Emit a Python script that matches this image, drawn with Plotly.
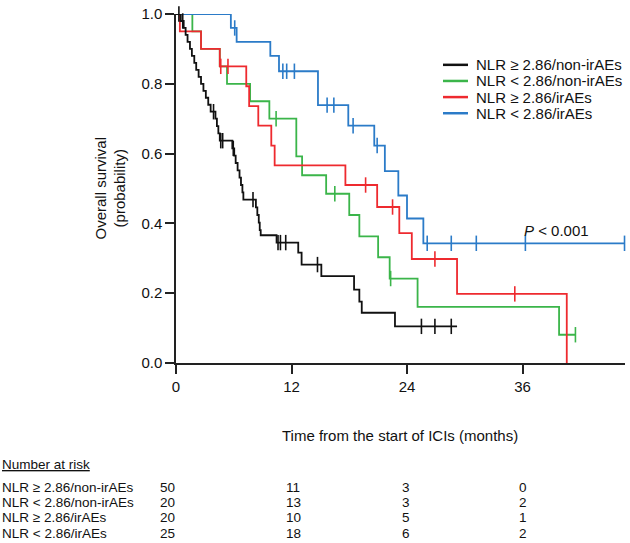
import numpy as np
import plotly.graph_objects as go

# ---------------- data ----------------
group_labels = ["NLR \u2265 2.86/non-irAEs", "NLR < 2.86/non-irAEs",
                "NLR \u2265 2.86/irAEs", "NLR < 2.86/irAEs"]
group_colors = ["#111111", "#3bb54a", "#ee2a2f", "#2b7bc8"]

# NLR >= 2.86 / non-irAEs (black)
black_t = [0, 0.5, 0.8, 1.0, 1.2, 1.45, 1.65, 1.9, 2.1, 2.35,
           2.6, 2.85, 3.1, 3.35, 3.6, 4.1, 4.25, 4.4, 4.55, 5.85,
           6.05, 6.2, 6.4, 6.6, 6.75, 6.9, 7.0, 8.3, 8.45, 8.6,
           8.7, 8.8, 10.45, 12.7, 13.05, 15.1, 18.5, 19.05, 19.3, 22.75,
           29.2]
black_s = [1.0, 0.98, 0.96, 0.94, 0.92, 0.90, 0.88, 0.86, 0.84, 0.82,
           0.80, 0.78, 0.76, 0.74, 0.72, 0.70, 0.679, 0.658, 0.637, 0.615,
           0.594, 0.573, 0.552, 0.531, 0.510, 0.489, 0.468, 0.446, 0.424, 0.402,
           0.381, 0.366, 0.345, 0.316, 0.282, 0.249, 0.210, 0.176, 0.144, 0.105,
           0.105]
black_cens = [0.3, 0.7, 3.9, 4.65, 4.85, 5.95, 8.0, 10.6, 10.85, 11.4,
              14.7, 25.5, 26.9, 28.6]

# NLR < 2.86 / non-irAEs (green)
green_t = [0, 1.7, 2.6, 4.55, 5.3, 7.7, 9.7, 12.5, 13.1, 15.6,
           18.0, 19.05, 21.0, 22.2, 25.1, 39.8, 41.5]
green_s = [1.0, 0.95, 0.90, 0.85, 0.80, 0.75, 0.70, 0.592, 0.538, 0.485,
           0.424, 0.363, 0.303, 0.242, 0.161, 0.081, 0.081]
green_cens = [10.4, 16.5, 22.3, 41.5]

# NLR >= 2.86 / irAEs (red)
red_t = [0, 0.4, 2.6, 4.55, 7.3, 7.6, 8.55, 9.9, 10.25, 17.6,
         20.9, 23.2, 24.5, 29.2, 40.6]
red_s = [1.0, 0.95, 0.90, 0.85, 0.793, 0.736, 0.68, 0.623, 0.566, 0.51,
         0.447, 0.372, 0.298, 0.198, 0.0]
red_cens = [4.65, 5.4, 19.7, 22.5, 26.9, 35.2]

# NLR < 2.86 / irAEs (blue)
blue_t = [0, 5.7, 6.3, 9.8, 10.7, 14.75, 17.9, 20.6, 21.7, 23.1,
          24.0, 25.7, 46.6]
blue_s = [1.0, 0.96, 0.92, 0.88, 0.836, 0.739, 0.68, 0.623, 0.55, 0.48,
          0.414, 0.343, 0.343]
blue_cens = [6.1, 11.1, 11.5, 12.3, 15.7, 16.4, 18.4, 20.9, 26.1, 28.6,
             31.2, 36.3, 46.6]

# number at risk
risk_times = [0, 12, 24, 36]
risk_black = [50, 11, 3, 0]
risk_green = [20, 13, 3, 2]
risk_red = [20, 10, 5, 1]
risk_blue = [25, 18, 6, 2]

x_ticks = [0, 12, 24, 36]
y_ticks = [0.0, 0.2, 0.4, 0.6, 0.8, 1.0]
p_text = "<i>P</i> < 0.001"

# ---------------- layout geometry ----------------
W, H = 630, 543
ML, MR, MT, MB = 176, 5, 6, 180
PW = W - ML - MR
PH = H - MT - MB
X_MAX = 46.65
FONT = "Liberation Sans, Arial, Helvetica, sans-serif"
FS = 15
FS_TAB = 13.5


def px_x(px):
    return (px - ML) / PW


def px_y(py):
    return (H - MB - py) / PH


def step_value(ts, ss, t):
    i = int(np.searchsorted(np.asarray(ts), t, side="right")) - 1
    return ss[max(i, 0)]


series = [
    (green_t, green_s, green_cens, group_colors[1]),
    (red_t, red_s, red_cens, group_colors[2]),
    (blue_t, blue_s, blue_cens, group_colors[3]),
    (black_t, black_s, black_cens, group_colors[0]),
]

fig = go.Figure()
for ts, ss, cens, col in series:
    fig.add_trace(go.Scatter(
        x=ts, y=ss, mode="lines", line=dict(color=col, width=1.8, shape="hv"),
        showlegend=False, cliponaxis=False, hoverinfo="skip"))
    fig.add_trace(go.Scatter(
        x=cens, y=[step_value(ts, ss, c) for c in cens], mode="markers",
        marker=dict(symbol="line-ns", size=11, line=dict(color=col, width=1.6)),
        showlegend=False, cliponaxis=False, hoverinfo="skip"))

annotations = []
shapes = []

# legend (manual)
leg_rows = [58, 74.5, 91, 107.5]
for lab, col, ry in zip(group_labels, group_colors, leg_rows):
    shapes.append(dict(type="line", xref="paper", yref="paper",
                       x0=px_x(443), x1=px_x(468), y0=px_y(ry), y1=px_y(ry),
                       line=dict(color=col, width=2.5)))
    annotations.append(dict(xref="paper", yref="paper", x=px_x(474), y=px_y(ry),
                            text=lab, showarrow=False, xanchor="left",
                            yanchor="middle", font=dict(size=FS, color="#111")))

# P value
annotations.append(dict(xref="paper", yref="paper", x=px_x(522), y=px_y(227),
                        text=p_text, showarrow=False, xanchor="left",
                        yanchor="middle", font=dict(size=FS, color="#111")))

# y-axis title
annotations.append(dict(xref="paper", yref="paper", x=px_x(110), y=px_y(184.5),
                        text="Overall survival<br>(probability)", showarrow=False,
                        textangle=-90, xanchor="center", yanchor="middle",
                        font=dict(size=FS, color="#111")))

# x-axis title
annotations.append(dict(xref="paper", yref="paper", x=px_x(400), y=px_y(437),
                        text="Time from the start of ICIs (months)", showarrow=False,
                        xanchor="center", yanchor="middle",
                        font=dict(size=FS, color="#111")))

# number at risk table
annotations.append(dict(xref="paper", yref="paper", x=px_x(0), y=px_y(467),
                        text="<u>Number at risk</u>", showarrow=False,
                        xanchor="left", yanchor="middle",
                        font=dict(size=FS_TAB, color="#111")))
row_y = [490.5, 506, 521.5, 537]
col_x = [158, 284, 400, 517]
for lab, vals, ry in zip(group_labels, [risk_black, risk_green, risk_red, risk_blue], row_y):
    annotations.append(dict(xref="paper", yref="paper", x=px_x(0), y=px_y(ry),
                            text=lab, showarrow=False, xanchor="left",
                            yanchor="middle", font=dict(size=FS_TAB, color="#111")))
    for cx, v in zip(col_x, vals):
        annotations.append(dict(xref="paper", yref="paper", x=px_x(cx), y=px_y(ry),
                                text=str(v), showarrow=False, xanchor="left",
                                yanchor="middle", font=dict(size=FS_TAB, color="#111")))

fig.update_layout(
    width=W, height=H,
    margin=dict(l=ML, r=MR, t=MT, b=MB, pad=0),
    paper_bgcolor="white", plot_bgcolor="white",
    font=dict(family=FONT, size=FS, color="#111"),
    showlegend=False,
    annotations=annotations,
    shapes=shapes,
    xaxis=dict(range=[0, X_MAX], tickvals=x_ticks, ticks="outside", ticklen=9,
               tickwidth=1.5, tickcolor="#222", showline=True, linecolor="#222",
               linewidth=1.5, showgrid=False, zeroline=False,
               ticklabeloverflow="allow", tickfont=dict(size=FS, color="#111")),
    yaxis=dict(range=[0, 1.0], tickvals=y_ticks, tickformat=".1f", ticks="outside",
               ticklen=9, tickwidth=1.5, tickcolor="#222", showline=True,
               linecolor="#222", linewidth=1.5, showgrid=False, zeroline=False,
               ticklabeloverflow="allow", tickfont=dict(size=FS, color="#111")),
)

fig.write_html("out.html", config={"displayModeBar": False},
               post_script="document.body.style.margin='0px';document.body.style.padding='0px';")
